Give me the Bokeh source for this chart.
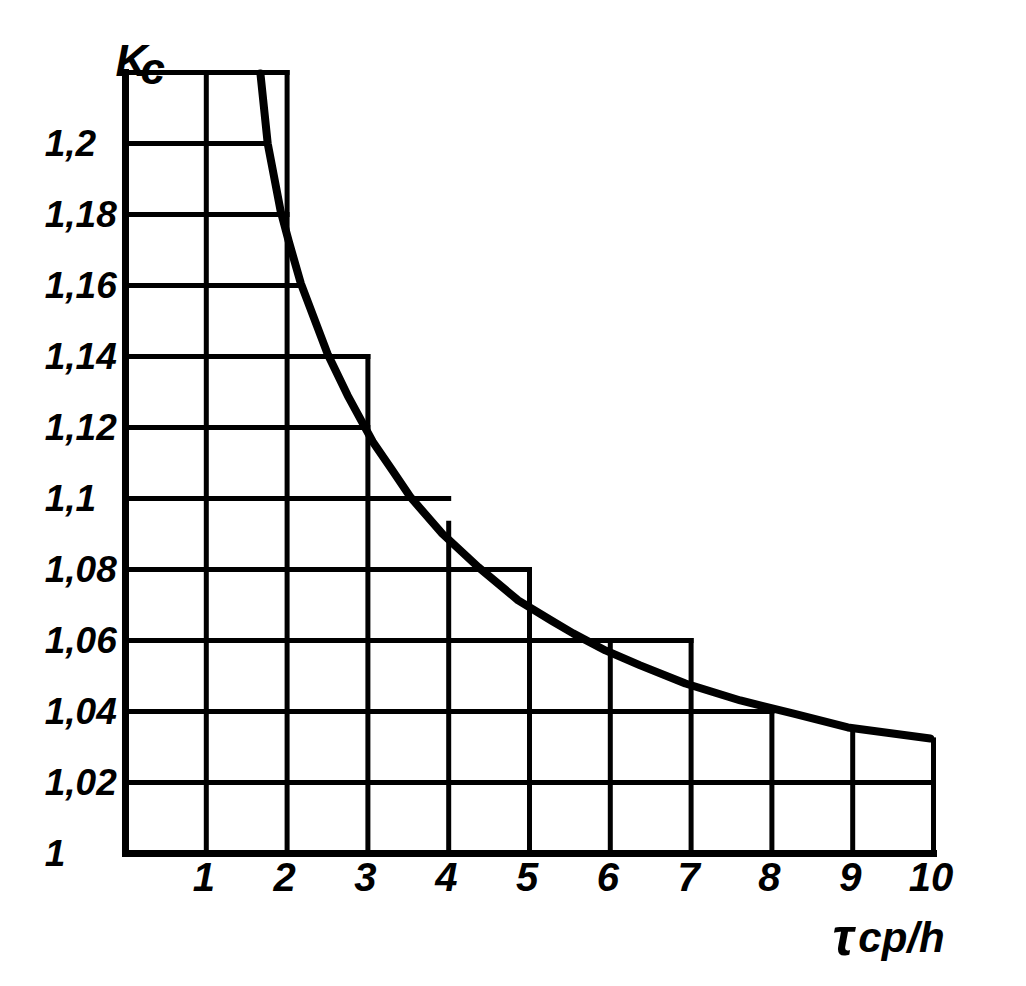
from bokeh.plotting import figure
from bokeh.models import Range1d
from bokeh.core.properties import value
from bokeh.embed import file_html
from bokeh.resources import INLINE

# ---- data ----
x_ticks = [1, 2, 3, 4, 5, 6, 7, 8, 9, 10]
x_tick_labels = ["1", "2", "3", "4", "5", "6", "7", "8", "9", "10"]
y_ticks = [1.0, 1.02, 1.04, 1.06, 1.08, 1.10, 1.12, 1.14, 1.16, 1.18, 1.20]
y_tick_labels = ["1", "1,02", "1,04", "1,06", "1,08", "1,1", "1,12", "1,14", "1,16", "1,18", "1,2"]

# staircase grid: vertical lines (x, top value) and horizontal lines (y, right end)
grid_v_x = [1, 2, 3, 4, 5, 6, 7, 8, 9, 10]
grid_v_top = [1.22, 1.22, 1.14, 1.093, 1.08, 1.06, 1.06, 1.04, 1.034, 1.032]
grid_h_y = [1.02, 1.04, 1.06, 1.08, 1.10, 1.12, 1.14, 1.16, 1.18, 1.20, 1.22]
grid_h_end = [10, 8, 7, 5, 4, 3, 3, 2.17, 2, 1.76, 2]

# curve Kc vs tau_cp/h
curve_x = [1.67, 1.76, 1.92, 2.02, 2.17, 2.50, 2.75, 3.06, 3.30, 3.53, 3.92, 4.37,
           4.86, 5.28, 5.54, 5.94, 6.37, 6.93, 7.61, 8.27, 8.94, 9.96]
curve_y = [1.2197, 1.200, 1.181, 1.1725, 1.1606, 1.1408, 1.1290, 1.116, 1.108, 1.1003, 1.0901, 1.0806,
           1.0713, 1.0655, 1.062, 1.0572, 1.053, 1.0479, 1.0431, 1.0394, 1.0355, 1.0324]

x_min, x_max = 0, 10
y_min, y_max = 1.0, 1.22

FONT = value("Liberation Sans")

p = figure(width=1010, height=970, output_backend="svg", toolbar_location=None,
           x_axis_type=None, y_axis_type=None,
           x_range=Range1d(-1.5470, 10.9530), y_range=Range1d(0.96704, 1.24028),
           min_border=0)
p.outline_line_color = None
p.grid.visible = False
p.background_fill_color = "white"
p.border_fill_color = "white"

# grid
p.segment(x0=grid_v_x, y0=[y_min] * len(grid_v_x), x1=grid_v_x, y1=grid_v_top,
          line_color="black", line_width=5, line_cap="square")
p.segment(x0=[x_min] * len(grid_h_y), y0=grid_h_y, x1=grid_h_end, y1=grid_h_y,
          line_color="black", line_width=5, line_cap="square")

# axes
p.segment(x0=[x_min, x_min], y0=[y_min, y_min], x1=[x_min, x_max], y1=[y_max, y_min],
          line_color="black", line_width=7, line_cap="square")

# curve
p.line(curve_x, curve_y, line_color="black", line_width=8, line_join="round", line_cap="round")

# tick labels
p.text(x=[-1.0] * len(y_ticks), y=y_ticks, text=y_tick_labels,
       text_font=FONT, text_font_size="37px", text_font_style="bold italic",
       text_align="left", text_baseline="middle", text_color="black")
p.text(x=[t - 0.03 for t in x_ticks], y=[y_min - 0.0065] * len(x_ticks), text=x_tick_labels,
       text_font=FONT, text_font_size="40px", text_font_style="bold italic",
       text_align="center", text_baseline="middle", text_color="black")

# axis titles
p.text(x=[-0.124], y=[1.2234], text=["K"], text_font=FONT, text_font_size="44px",
       text_font_style="bold italic", text_align="left", text_baseline="alphabetic")
p.text(x=[0.186], y=[1.2211], text=["c"], text_font=FONT, text_font_size="44px",
       text_font_style="bold italic", text_align="left", text_baseline="alphabetic")
p.text(x=[8.75], y=[0.97634], text=["τ"], text_font=FONT, text_font_size="52px",
       text_font_style="bold italic", text_align="left", text_baseline="alphabetic")
p.text(x=[9.07], y=[0.97634], text=["ср/h"], text_font=FONT, text_font_size="42px",
       text_font_style="bold italic", text_align="left", text_baseline="alphabetic")

open("out.html", "w").write(file_html(p, INLINE))
